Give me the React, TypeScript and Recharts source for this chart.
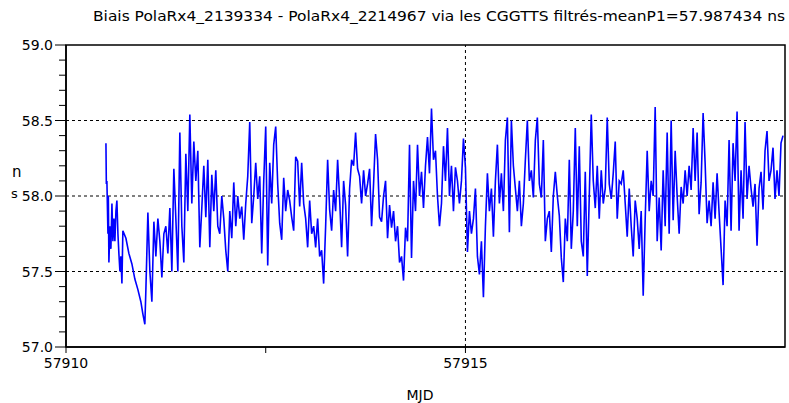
import React from 'react';
import { LineChart, Line, XAxis, YAxis, ReferenceLine, ReferenceArea } from 'recharts';

// Sparse start of the record (MJD, ns)
const earlyMjd = [
  57910.5, 57910.505, 57910.512, 57910.525, 57910.53, 57910.537, 57910.55, 57910.562,
  57910.575, 57910.587, 57910.6, 57910.612, 57910.625, 57910.637, 57910.65, 57910.662,
  57910.675, 57910.687, 57910.7, 57910.712, 57910.75, 57910.787, 57910.825, 57910.862,
  57910.9, 57910.937, 57910.962, 57910.987,
];
const earlyBias = [
  58.35, 58.08, 58.1, 57.75, 58.0, 57.56, 57.8, 57.65,
  57.95, 57.7, 57.85, 57.7, 57.9, 57.97, 57.75, 57.62,
  57.5, 57.6, 57.42, 57.77, 57.72, 57.62, 57.55, 57.45,
  57.38, 57.3, 57.22, 57.15,
];

// Regular part of the record, one value every 0.025 day from MJD 57911
const mainStartMjd = 57911;
const mainStepDays = 0.025;
const mainBias = [
  57.38, 57.89, 57.5, 57.3, 57.83, 57.6, 57.85, 57.7, 57.46, 57.75,
  57.8, 57.62, 57.92, 57.5, 58.18, 57.85, 57.5, 58.42, 57.8, 57.56,
  58.28, 57.9, 58.54, 57.95, 58.36, 58.1, 58.3, 57.66, 57.92, 58.2,
  57.86, 58.24, 57.66, 58.14, 57.9, 58.17, 57.8, 57.75, 58.0, 57.85,
  57.64, 57.5, 57.9, 57.72, 58.09, 57.8, 58.0, 57.85, 57.93, 57.71,
  57.95, 58.13, 58.49, 57.82, 58.0, 58.22, 57.98, 58.13, 57.62, 58.1,
  58.46, 57.54, 58.22, 57.95, 58.34, 58.46, 58.08, 57.82, 57.71, 58.12,
  57.9, 58.04, 57.97, 57.86, 57.77, 58.26, 58.23, 57.93, 58.22, 57.95,
  57.85, 57.66, 57.97, 57.75, 57.8, 57.66, 57.85, 57.6, 57.64, 57.42,
  57.8, 58.24, 57.91, 57.77, 58.04, 57.9, 58.24, 57.98, 57.66, 58.1,
  57.94, 57.6, 58.05, 58.24, 58.2, 58.42, 58.18, 58.13, 57.95, 58.17,
  58.0, 58.08, 58.18, 57.8, 58.08, 58.41, 58.24, 57.86, 57.83, 58.0,
  58.1, 57.72, 57.94, 57.79, 57.9, 57.7, 57.8, 57.56, 57.6, 57.44,
  57.79, 57.7, 58.34, 57.59, 58.1, 57.9, 58.34, 58.0, 58.16, 57.92,
  58.2, 58.39, 58.15, 58.58, 58.24, 58.3, 58.0, 57.8, 57.95, 58.33,
  58.1, 58.45, 58.0, 58.2, 57.9, 58.19, 58.1, 57.95, 58.1, 58.38,
  58.19, 57.63, 57.9, 57.75, 57.85, 58.05, 57.6, 57.48, 57.7, 57.33,
  57.8, 58.15, 57.9, 58.05, 57.73, 58.1, 58.34, 57.95, 58.15, 57.9,
  58.37, 58.52, 57.76, 58.5, 58.2, 58.05, 57.9, 58.1, 57.8, 57.95,
  58.24, 58.5, 58.1, 58.17, 57.99, 58.37, 58.52, 58.08, 57.99, 58.37,
  57.7, 57.85, 57.9, 57.63, 58.0, 58.16, 58.0, 57.87, 57.59, 57.43,
  57.85, 57.7, 58.24, 57.65, 57.9, 58.45, 57.8, 58.33, 57.7, 57.6,
  58.16, 57.47, 58.0, 58.54, 58.1, 57.92, 58.2, 57.85, 58.17, 57.95,
  58.05, 58.52, 58.08, 57.98, 58.15, 58.36, 57.85, 58.1, 58.08, 58.17,
  57.95, 57.73, 58.05, 57.8, 57.6, 57.97, 57.85, 57.65, 57.9, 57.34,
  57.85, 58.3, 57.9, 58.1, 58.0, 58.59, 57.7, 57.99, 57.64, 58.17,
  57.8, 58.42, 57.75, 58.5, 57.84, 58.3, 58.0, 57.75, 58.06, 57.95,
  58.17, 58.0, 58.2, 58.04, 58.45, 58.1, 58.42, 57.88, 58.09, 58.55,
  58.22, 57.82, 57.97, 57.8, 58.09, 57.85, 58.15, 57.89, 57.65, 57.41,
  57.97, 57.8, 58.37, 57.77, 58.35, 58.1, 58.56, 57.77, 58.17, 57.85,
  58.49, 57.98, 58.2, 58.05, 57.93, 58.08, 57.67, 58.05, 58.16, 57.91,
  58.3, 58.43, 58.1, 58.17, 58.32, 57.98, 58.17, 58.0, 58.35, 58.4,
];

const xTicks = [57910, 57912.5, 57915];
const yTicks = [
  57.0, 57.1, 57.2, 57.3, 57.4, 57.5, 57.6, 57.7, 57.8, 57.9,
  58.0, 58.1, 58.2, 58.3, 58.4, 58.5, 58.6, 58.7, 58.8, 58.9, 59.0,
];
const gridY = [57.5, 58.0, 58.5];
const gridX = [57915];

const title = 'Biais PolaRx4_2139334 - PolaRx4_2214967 via les CGGTTS filtrés-meanP1=57.987434 ns';

const data = [
  ...earlyMjd.map((m, i) => ({ mjd: m, bias: earlyBias[i] })),
  ...mainBias.map((b, i) => ({ mjd: mainStartMjd + i * mainStepDays, bias: b })),
];

const FONT = 'DejaVu Sans, sans-serif';

const YTick = (props: any) => {
  const { x, y, payload } = props;
  const v = payload.value;
  const major = Math.abs(v * 2 - Math.round(v * 2)) < 1e-6;
  return (
    <g>
      <line x1={x - (major ? 11 : 7)} x2={x} y1={y} y2={y} stroke="#000" strokeWidth={1} />
      {major && (
        <text x={x - 13} y={y + 5} textAnchor="end" fontSize={14} fontFamily={FONT} fill="#000">
          {v.toFixed(1)}
        </text>
      )}
    </g>
  );
};

const XTick = (props: any) => {
  const { x, y, payload } = props;
  const v = payload.value;
  return (
    <g>
      <line x1={x} x2={x} y1={y} y2={y + 6} stroke="#000" strokeWidth={1} />
      {Number.isInteger(v) && (
        <text x={x} y={y + 21} textAnchor="middle" fontSize={14} fontFamily={FONT} fill="#000">
          {v}
        </text>
      )}
    </g>
  );
};

export default function App() {
  return (
    <div style={{ position: 'absolute', left: 0, top: 0, width: 789, height: 403, background: '#fff' }}>
      <LineChart width={789} height={403} data={data} margin={{ top: 45, right: 4, bottom: 16, left: 0 }}>
        <XAxis
          dataKey="mjd"
          type="number"
          domain={[57910, 57919]}
          ticks={xTicks}
          allowDataOverflow
          height={40}
          tickSize={0}
          tickMargin={0}
          tickLine={false}
          tick={<XTick />}
          axisLine={{ stroke: '#000', strokeWidth: 1.5 }}
        />
        <YAxis
          type="number"
          domain={[57, 59]}
          ticks={yTicks}
          allowDataOverflow
          width={66}
          tickSize={0}
          tickMargin={0}
          tickLine={false}
          tick={<YTick />}
          interval={0}
          axisLine={{ stroke: '#000', strokeWidth: 1.5 }}
        />
        <ReferenceArea x1={57910} x2={57919} y1={57} y2={59} fill="none" stroke="#000" strokeWidth={1.5} />
        {gridY.map((g) => (
          <ReferenceLine key={g} y={g} stroke="#000" strokeDasharray="3 3" />
        ))}
        {gridX.map((g) => (
          <ReferenceLine key={g} x={g} stroke="#000" strokeDasharray="3 3" />
        ))}
        <Line
          type="linear"
          dataKey="bias"
          stroke="#0000ff"
          strokeWidth={1.6}
          dot={false}
          isAnimationActive={false}
        />
      </LineChart>
      <svg width={789} height={403} style={{ position: 'absolute', left: 0, top: 0, pointerEvents: 'none' }}>
        <text x={93} y={21} fontSize={14} fontFamily={FONT} fill="#000" textLength={692} lengthAdjust="spacingAndGlyphs">
          {title}
        </text>
        <text x={12} y={177} fontSize={15} fontFamily={FONT} fill="#000">n</text>
        <text x={11} y={198} fontSize={13} fontFamily={FONT} fill="#000">s</text>
        <text x={420} y={400} fontSize={14} fontFamily={FONT} fill="#000" textAnchor="middle">MJD</text>
      </svg>
    </div>
  );
}
